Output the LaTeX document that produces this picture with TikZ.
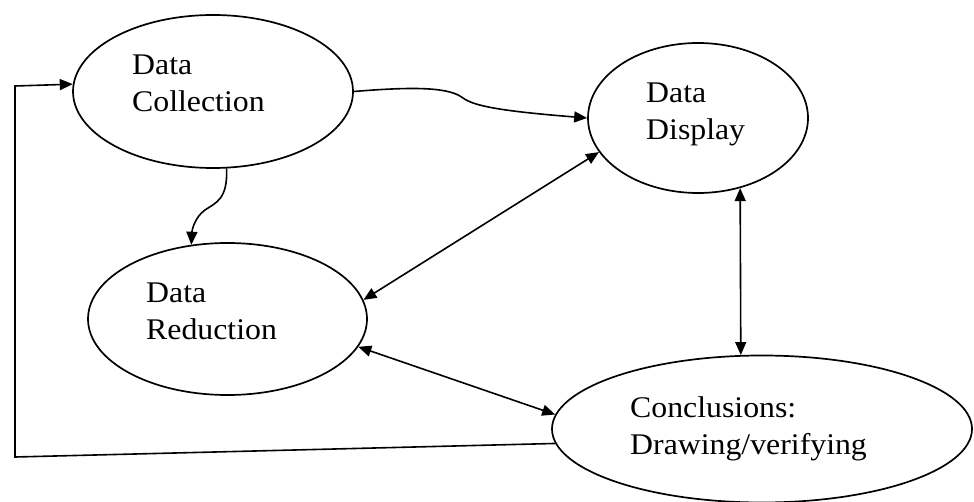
\documentclass[tikz,border=0pt]{standalone}
\usepackage{fontspec}
\setmainfont{Liberation Serif}[FakeStretch=1.06]
\usetikzlibrary{shapes.geometric,arrows.meta}
\tikzset{
  bubble/.style={ellipse,draw,line width=1.7pt,inner sep=0pt},
  label text/.style={anchor=north west,inner sep=0pt,align=left,
    font=\fontsize{30}{37}\selectfont},
  link/.style={line width=1.6pt,-{Triangle[length=13pt,width=11pt]}},
  twoway/.style={line width=1.6pt,{Triangle[length=13pt,width=11pt]}-{Triangle[length=13pt,width=11pt]}}
}
\begin{document}
\begin{tikzpicture}[x=1pt,y=-1pt]
\useasboundingbox (0,0) rectangle (974,502);
\fill[white] (0,0) rectangle (974,502);
\node[bubble,minimum width=280pt,minimum height=153pt] (coll) at (213,91.5) {};
\node[bubble,minimum width=220pt,minimum height=150pt] (disp) at (698,118) {};
\node[bubble,minimum width=279pt,minimum height=152pt] (red) at (227.5,319) {};
\node[bubble,minimum width=420pt,minimum height=147pt] (conc) at (762,429) {};
\node[label text] (tcoll) at (132,55) {Data\\Collection};
\node[label text] (tdisp) at (646,83) {Data\\Display};
\node[label text] (tred) at (146,283) {Data\\Reduction};
\node[label text] (tconc) at (630,396) {Conclusions:\\Drawing/verifying};
\coordinate (fb1) at (15,457);
\coordinate (fb2) at (15,86);
\draw[link] (coll.east) .. controls (420,86) and (450,88) .. (463,98)
  .. controls (474,106) and (500,111) .. (disp.west);
\draw[link] (coll.-80) .. controls (228,200) and (215,203) .. (205,210)
  .. controls (195,217) and (192,230) .. (red.116);
\draw[twoway] (disp.199) -- (red.8);
\draw[twoway] (disp.-59) -- (conc.106);
\draw[twoway] (red.-12) -- (conc.176);
\draw[link] (conc.184) -- (fb1) -- (fb2) -- (coll.177);
\end{tikzpicture}
\end{document}
